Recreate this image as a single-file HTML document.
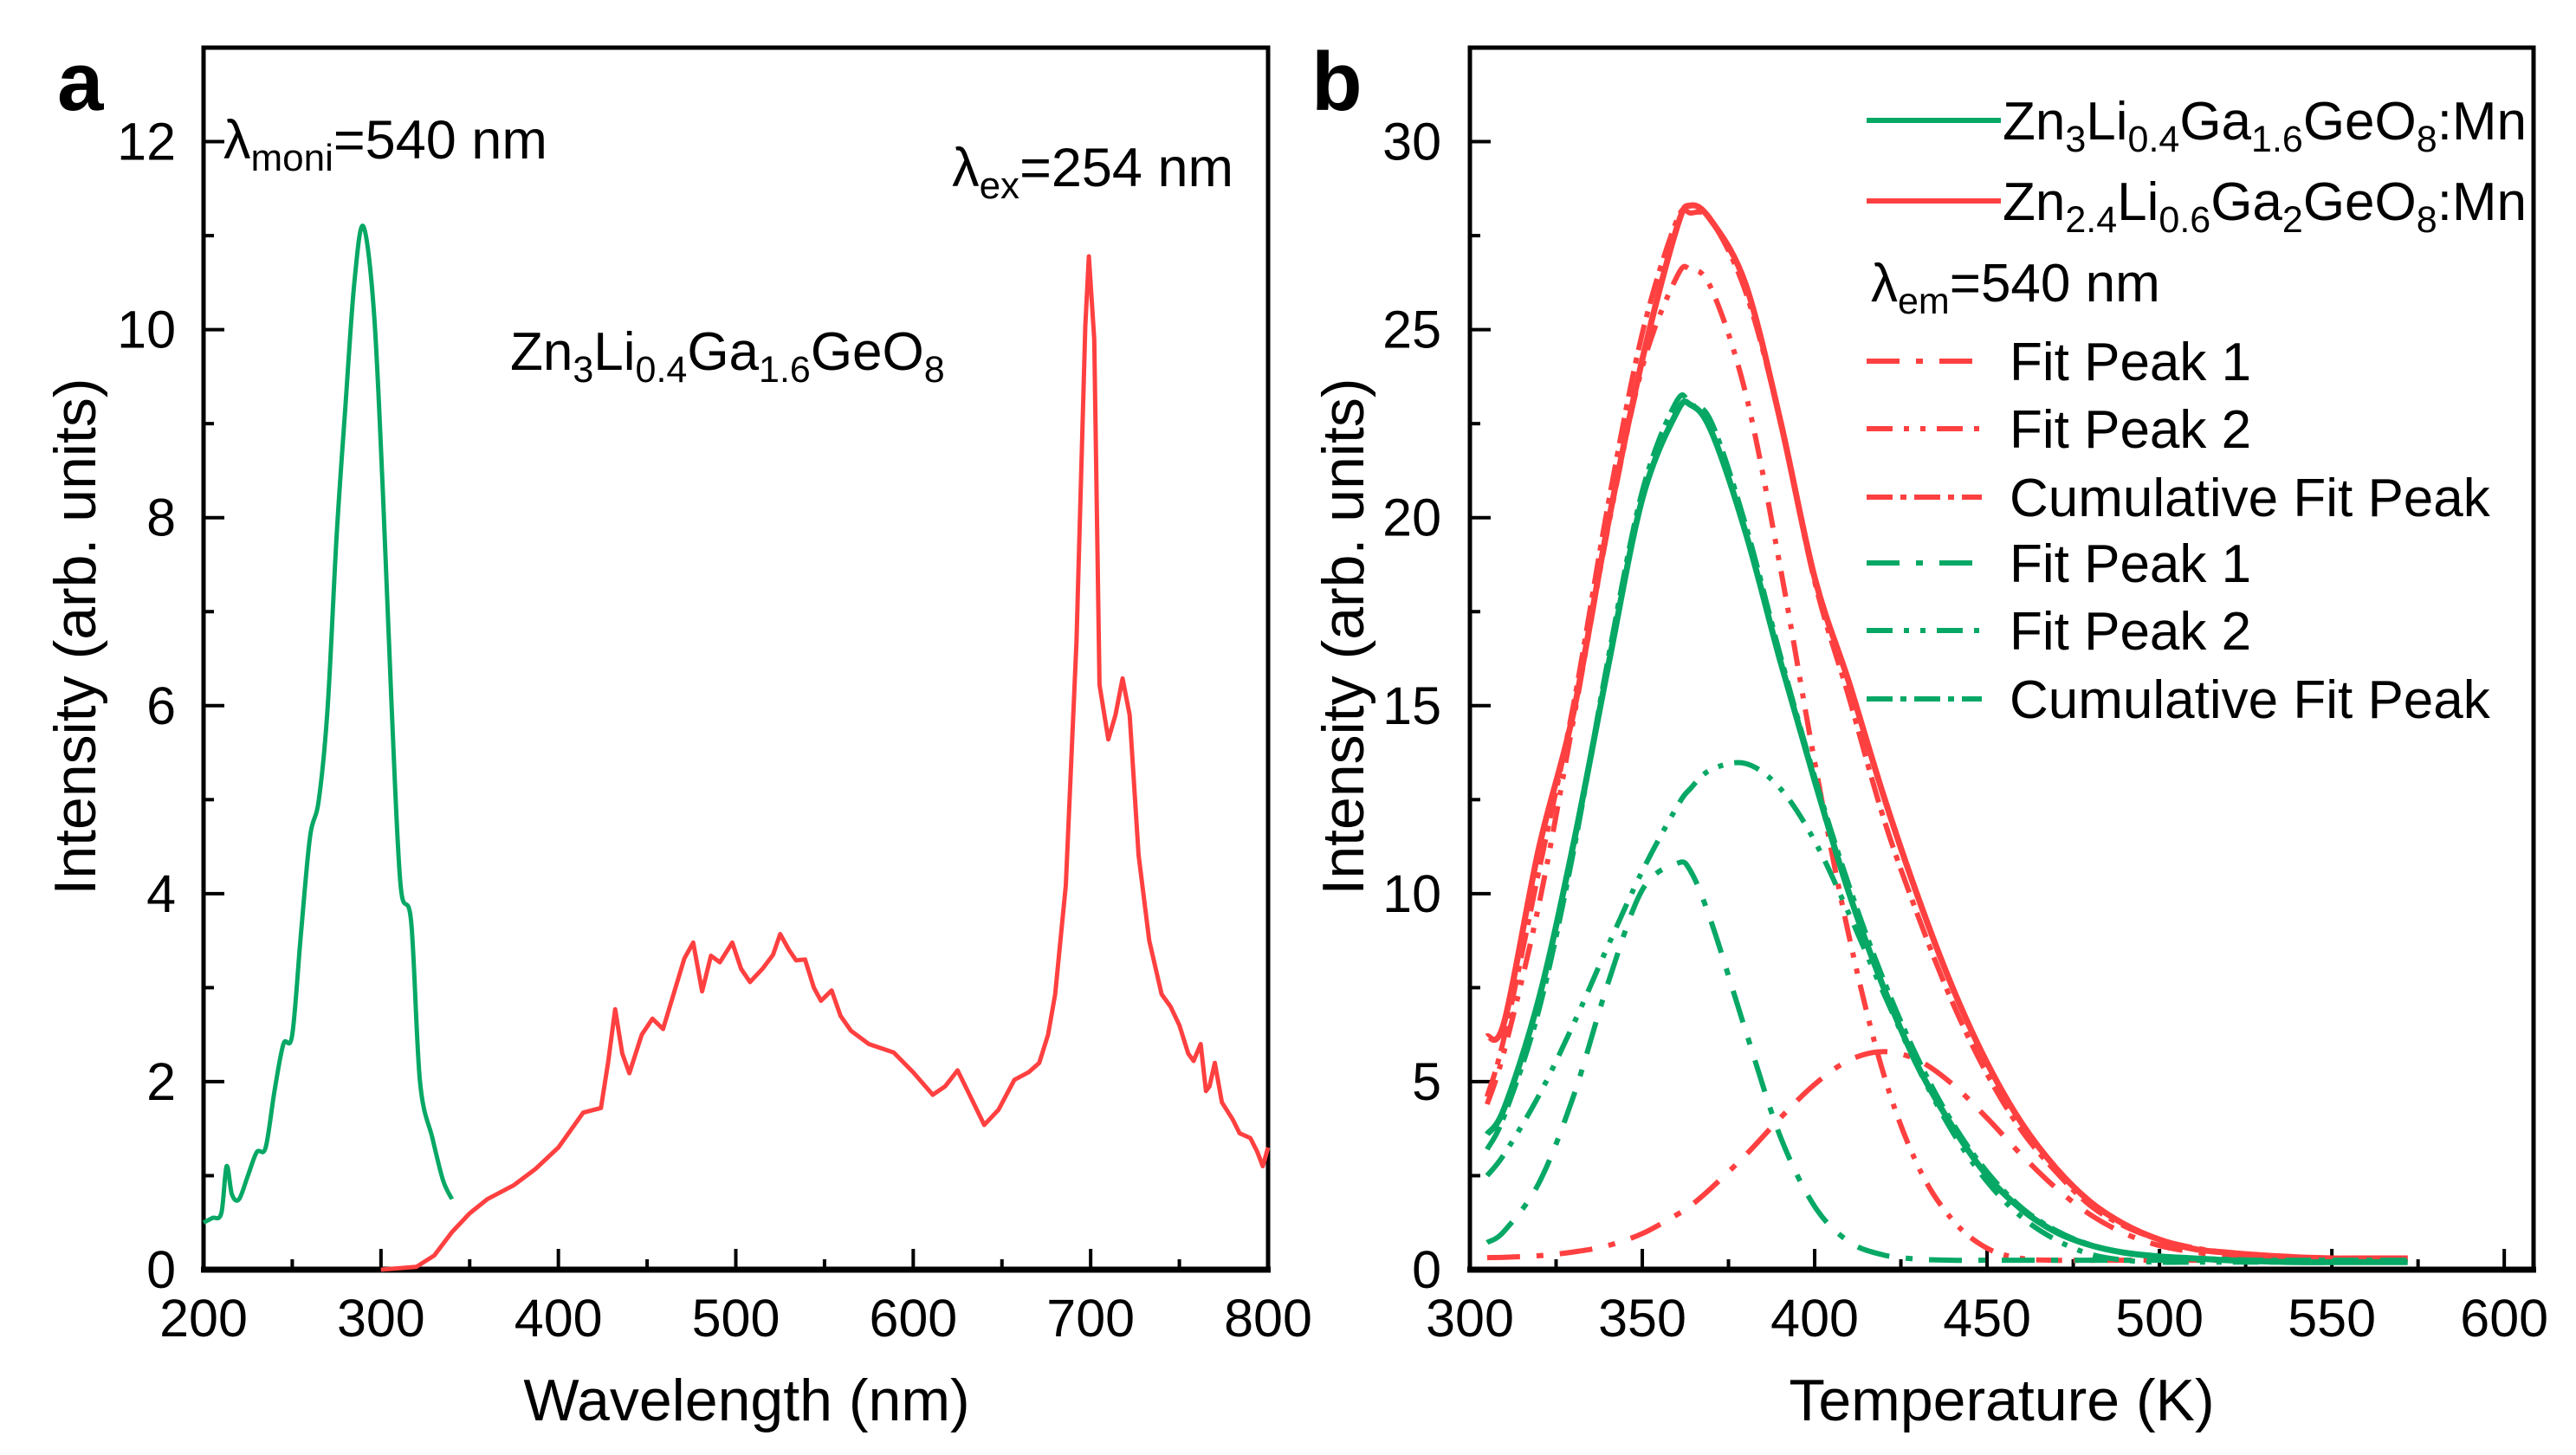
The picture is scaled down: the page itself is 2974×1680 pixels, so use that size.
<!DOCTYPE html>
<html><head><meta charset="utf-8"><style>
html,body{margin:0;padding:0;background:#fff;}
svg{display:block;font-family:"Liberation Sans",Arial,sans-serif;}
</style></head><body>
<svg id="fig" width="2974" height="1680" viewBox="0 0 2974 1680" xmlns="http://www.w3.org/2000/svg">
<g id="pa"></g>
<g id="pb"></g>
<text x="66" y="127" font-size="96" font-weight="bold">a</text>
<text x="1514" y="127" font-size="96" font-weight="bold">b</text>
<text x="258" y="183" font-size="63">λ<tspan font-size="44" dy="14">moni</tspan><tspan dy="-14">=540 nm</tspan></text>
<text x="1424" y="215" font-size="63" text-anchor="end">λ<tspan font-size="44" dy="14">ex</tspan><tspan dy="-14">=254 nm</tspan></text>
<text x="589" y="427" font-size="62">Zn<tspan font-size="43" dy="14">3</tspan><tspan dy="-14">Li</tspan><tspan font-size="43" dy="14">0.4</tspan><tspan dy="-14">Ga</tspan><tspan font-size="43" dy="14">1.6</tspan><tspan dy="-14">GeO</tspan><tspan font-size="43" dy="14">8</tspan></text>
<text x="862" y="1640" font-size="68" text-anchor="middle">Wavelength (nm)</text>
<text x="2311" y="1640" font-size="68" text-anchor="middle">Temperature (K)</text>
<text transform="translate(110,735) rotate(-90)" font-size="68" text-anchor="middle">Intensity (arb. units)</text>
<text transform="translate(1574,735) rotate(-90)" font-size="68" text-anchor="middle">Intensity (arb. units)</text>
<g id="legend"></g>
</svg>
<script>
// ---------- Panel a data ----------
const exWl = [200,205,210,213,216,220,225,230,235,240,245,250,255,260,265,270,275,280,285,290,296,301,306,311,317,322,329,335,340];
const exVal = [0.5,0.55,0.6,1.1,0.8,0.75,1.0,1.25,1.3,1.9,2.4,2.5,3.6,4.6,5.0,6.0,7.8,9.2,10.5,11.1,10.2,8.3,6.0,4.1,3.7,2.0,1.4,0.95,0.75];
const emWl = [300,320,330,340,350,360,375,387,400,414,424,428,432,436,440,447,453,459,466,471,476,481,486,491,498,503,508,515,521,525,530,534,539,544,548,554,559,565,575,589,600,611,618,625,632,640,648,657,665,671,676,680,686,692,697,699,702,705,710,714,718,722,727,733,740,745,750,755,758,762,765,767,770,774,780,784,790,794,797,800];
const emVal = [0,0.03,0.15,0.4,0.6,0.75,0.9,1.07,1.3,1.67,1.72,2.2,2.77,2.3,2.09,2.5,2.67,2.56,3.0,3.31,3.48,2.96,3.34,3.27,3.48,3.2,3.06,3.2,3.35,3.57,3.4,3.29,3.3,3.0,2.86,2.97,2.7,2.54,2.4,2.31,2.1,1.86,1.95,2.12,1.85,1.54,1.7,2.02,2.1,2.2,2.5,2.93,4.09,6.68,10.04,10.78,9.9,6.22,5.64,5.9,6.29,5.9,4.41,3.5,2.93,2.8,2.6,2.3,2.22,2.4,1.9,1.95,2.2,1.78,1.6,1.45,1.4,1.25,1.1,1.3];
const aXTicks = [200,300,400,500,600,700,800];
const aYTicks = [0,2,4,6,8,10,12];
// ---------- Panel b data ----------
const tGrid = [305,310,320,330,340,350,360,364,370,380,390,400,410,420,430,440,450,460,470,480,490,500,510,520,530,540,550,560,572];
const redTotal = [6.2,6.6,11.2,14.8,19.8,24.2,27.7,28.3,27.9,26.2,22.6,18.4,15.6,12.6,9.9,7.5,5.5,3.9,2.7,1.8,1.2,0.8,0.55,0.45,0.38,0.33,0.3,0.3,0.3];
const redCum = [4.6,6.2,10.6,15.0,20.3,24.9,27.9,28.1,27.9,26.0,22.6,18.3,15.2,12.0,9.4,7.1,5.2,3.7,2.6,1.7,1.15,0.8,0.58,0.45,0.38,0.33,0.31,0.3,0.3];
const redFit1 = [0.32,0.33,0.37,0.47,0.64,0.96,1.46,1.7,2.17,3.05,4.03,4.93,5.57,5.8,5.57,4.93,4.03,3.05,2.17,1.46,0.96,0.64,0.47,0.37,0.33,0.31,0.3,0.3,0.3];
const redFit2 = [4.4,5.83,9.7,14.6,19.7,24.0,26.4,26.6,26.1,23.3,18.7,13.5,8.85,5.2,2.75,1.32,0.57,0.3,0.25,0.25,0.25,0.25,0.25,0.25,0.25,0.25,0.25,0.25,0.25];
const greenTotal = [3.6,4.3,7.2,11.3,16.0,20.5,22.8,23.0,22.3,19.6,16.2,13.0,10.0,7.5,5.4,3.8,2.5,1.6,1.0,0.65,0.45,0.35,0.3,0.25,0.22,0.2,0.2,0.2,0.2];
const greenCum = [3.2,4.1,6.9,11.1,16.2,20.7,23.1,23.0,22.55,19.8,16.35,13.1,10.2,7.7,5.6,3.9,2.6,1.65,1.04,0.66,0.45,0.35,0.3,0.27,0.25,0.25,0.25,0.25,0.25];
const greenFit1 = [0.72,1.03,2.3,4.6,7.6,10.1,10.8,10.6,9.25,6.35,3.55,1.68,0.74,0.39,0.28,0.25,0.25,0.25,0.25,0.25,0.25,0.25,0.25,0.25,0.25,0.25,0.25,0.25,0.25];
const greenFit2 = [2.5,3.08,4.63,6.52,8.6,10.6,12.3,12.8,13.3,13.46,12.8,11.4,9.45,7.35,5.36,3.66,2.34,1.4,0.79,0.41,0.25,0.2,0.2,0.2,0.2,0.2,0.2,0.2,0.2];
const bXTicks = [300,350,400,450,500,550,600];
const bYTicks = [0,5,10,15,20,25,30];

const NS = "http://www.w3.org/2000/svg";
const GREEN = "#07a865", RED = "#ff4040";
function mk(tag, attrs, parent){const e=document.createElementNS(NS,tag);for(const k in attrs)e.setAttribute(k,attrs[k]);parent.appendChild(e);return e;}

const A = {x0:235,x1:1464,y0:1466,y1:55,vx0:200,vx1:800,vy0:0,vy1:13};
const B = {x0:1697,x1:2925,y0:1466,y1:55,vx0:300,vx1:608.5,vy0:0,vy1:32.5};
function sx(P,v){return P.x0+(v-P.vx0)/(P.vx1-P.vx0)*(P.x1-P.x0);}
function sy(P,v){return P.y0-(v-P.vy0)/(P.vy1-P.vy0)*(P.y0-P.y1);}
function pathD(P,xs,ys){return xs.map((x,i)=>(i?"L":"M")+sx(P,x).toFixed(1)+","+sy(P,ys[i]).toFixed(1)).join(" ");}
function smoothD(P,xs,ys){
  const p=xs.map((x,i)=>[sx(P,x),sy(P,ys[i])]);
  let d="M"+p[0][0].toFixed(1)+","+p[0][1].toFixed(1);
  for(let i=0;i<p.length-1;i++){
    const p0=p[i-1]||p[i],p1=p[i],p2=p[i+1],p3=p[i+2]||p2;
    const c1=[p1[0]+(p2[0]-p0[0])/6,p1[1]+(p2[1]-p0[1])/6];
    const c2=[p2[0]-(p3[0]-p1[0])/6,p2[1]-(p3[1]-p1[1])/6];
    d+=" C"+c1[0].toFixed(1)+","+c1[1].toFixed(1)+" "+c2[0].toFixed(1)+","+c2[1].toFixed(1)+" "+p2[0].toFixed(1)+","+p2[1].toFixed(1);
  }
  return d;
}

function drawAxes(P,g,xt,yt,xMinorStep,yMinorStep,labelRight,name){
  const frame=mk("rect",{x:P.x0,y:P.y1,width:P.x1-P.x0,height:P.y0-P.y1,fill:"none",stroke:"#000","stroke-width":5},g);
  
  
  const base=mk("line",{x1:P.x0-3,x2:P.x1+3,y1:P.y0,y2:P.y0,stroke:"#000","stroke-width":7},g);
  
  
  for(let v=xt[0]; v<=xt[xt.length-1]+1e-6; v+=xMinorStep){
    const major = xt.some(t=>Math.abs(t-v)<1e-6);
    const t=mk("line",{x1:sx(P,v),x2:sx(P,v),y1:P.y0,y2:P.y0-(major?24:12),stroke:"#000","stroke-width":4},g);
    
    
  }
  xt.forEach(v=>{
    const l=mk("text",{x:sx(P,v),y:1543,"font-size":61,"text-anchor":"middle"},g);
    l.textContent=v;
    
    
  });
  for(let v=yt[0]; v<=P.vy1; v+=yMinorStep){
    const major = yt.some(t=>Math.abs(t-v)<1e-6);
    const t=mk("line",{x1:P.x0,x2:P.x0+(major?24:12),y1:sy(P,v),y2:sy(P,v),stroke:"#000","stroke-width":4},g);
    
    
  }
  yt.forEach(v=>{
    const l=mk("text",{x:labelRight,y:sy(P,v)+21,"font-size":61,"text-anchor":"end"},g);
    l.textContent=v;
    
    
  });
}
function series(P,g,xs,ys,color,dash,name,w,smooth){
  const p=mk("path",{d:smooth?smoothD(P,xs,ys):pathD(P,xs,ys),fill:"none",stroke:color,"stroke-width":w||6,"stroke-linejoin":"round","stroke-linecap":"butt"},g);
  if(dash)p.setAttribute("stroke-dasharray",dash);
  
  
}
const DASH1="38 19 8 19", DASH2="30 13 6 13 6 13", DASHC="30 9 7 9";

const ga=document.getElementById("pa"), gb=document.getElementById("pb");
drawAxes(A,ga,aXTicks,aYTicks,50,1,203,"panel-a");
series(A,ga,exWl,exVal,GREEN,null,"excitation-spectrum-line",5,true);
series(A,ga,emWl,emVal,RED,null,"emission-spectrum-line",5,false);

drawAxes(B,gb,bXTicks,bYTicks,25,2.5,1664,"panel-b");
series(B,gb,tGrid,redFit1,RED,DASH1,"red-fit-peak-1-line",6,true);
series(B,gb,tGrid,redFit2,RED,DASH2,"red-fit-peak-2-line",6,true);
series(B,gb,tGrid,greenFit1,GREEN,DASH1,"green-fit-peak-1-line",6,true);
series(B,gb,tGrid,greenFit2,GREEN,DASH2,"green-fit-peak-2-line",6,true);
series(B,gb,tGrid,redTotal,RED,null,"red-tl-curve",7,true);
series(B,gb,tGrid,redCum,RED,DASHC,"red-cumulative-fit-line",6,true);
series(B,gb,tGrid,greenTotal,GREEN,null,"green-tl-curve",7,true);
series(B,gb,tGrid,greenCum,GREEN,DASHC,"green-cumulative-fit-line",6,true);

const lg=document.getElementById("legend");
const legRows=[
 {y:139,color:GREEN,dash:null,html:'Zn<tspan font-size="43" dy="14">3</tspan><tspan dy="-14">Li</tspan><tspan font-size="43" dy="14">0.4</tspan><tspan dy="-14">Ga</tspan><tspan font-size="43" dy="14">1.6</tspan><tspan dy="-14">GeO</tspan><tspan font-size="43" dy="14">8</tspan><tspan dy="-14">:Mn</tspan>',tx:2312,end:2310,name:"legend-entry-zn3"},
 {y:232,color:RED,dash:null,html:'Zn<tspan font-size="43" dy="14">2.4</tspan><tspan dy="-14">Li</tspan><tspan font-size="43" dy="14">0.6</tspan><tspan dy="-14">Ga</tspan><tspan font-size="43" dy="14">2</tspan><tspan dy="-14">GeO</tspan><tspan font-size="43" dy="14">8</tspan><tspan dy="-14">:Mn</tspan>',tx:2312,end:2310,name:"legend-entry-zn2-4"},
 {y:326,color:null,html:'λ<tspan font-size="43" dy="14">em</tspan><tspan dy="-14">=540 nm</tspan>',tx:2160,name:"legend-lambda-em"},
 {y:417,color:RED,dash:DASH1,html:'Fit Peak 1',tx:2320,end:2282,name:"legend-entry-red-fit-1"},
 {y:495,color:RED,dash:DASH2,html:'Fit Peak 2',tx:2320,end:2288,name:"legend-entry-red-fit-2"},
 {y:574,color:RED,dash:DASHC,html:'Cumulative Fit Peak',tx:2320,end:2288,name:"legend-entry-red-cumulative"},
 {y:650,color:GREEN,dash:DASH1,html:'Fit Peak 1',tx:2320,end:2282,name:"legend-entry-green-fit-1"},
 {y:728,color:GREEN,dash:DASH2,html:'Fit Peak 2',tx:2320,end:2288,name:"legend-entry-green-fit-2"},
 {y:807,color:GREEN,dash:DASHC,html:'Cumulative Fit Peak',tx:2320,end:2288,name:"legend-entry-green-cumulative"}
];
legRows.forEach(r=>{
  const g=mk("g",{},lg);
  
  
  if(r.color){
    const l=mk("line",{x1:2155,x2:r.end,y1:r.y,y2:r.y,stroke:r.color,"stroke-width":6},g);
    if(r.dash)l.setAttribute("stroke-dasharray",r.dash);
    
    
  }
  const t=mk("text",{x:r.tx,y:r.y+22,"font-size":62},g);
  t.innerHTML=r.html;
  
  
});
</script>
</body></html>
